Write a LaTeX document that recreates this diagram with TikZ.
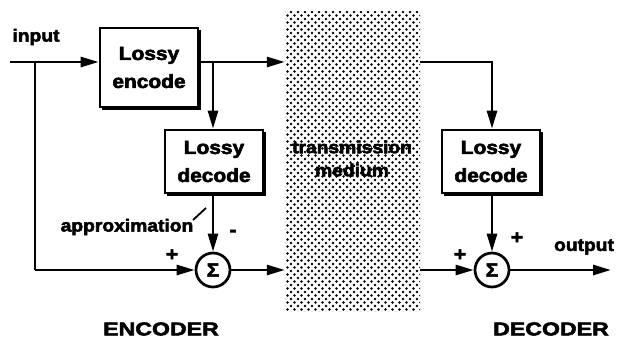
\documentclass[tikz,border=0pt]{standalone}
\usepackage{fontspec}
\usetikzlibrary{arrows.meta}
\newfontfamily\lbl{Liberation Sans}[FakeStretch=1.1,FakeBold=3]
\newfontfamily\ttl{Liberation Sans}[FakeStretch=1.25,FakeBold=3]
\tikzset{
  lw/.style={line width=2.7pt},
  arr/.style={lw,-{Triangle[length=18pt,width=10pt]}},
  blockbox/.style={draw,lw,fill=white,rectangle,minimum width=98pt,
    align=center,font=\lbl\bfseries\fontsize{19}{28}\selectfont,inner sep=0pt},
  sumnode/.style={draw,lw,circle,fill=white,minimum size=34pt,inner sep=0pt,
    font=\lbl\bfseries\fontsize{19}{19}\selectfont},
  lab/.style={font=\lbl\bfseries\fontsize{17.5}{20}\selectfont,inner sep=0pt},
  title/.style={font=\ttl\bfseries\fontsize{18.5}{20}\selectfont,inner sep=0pt},
  sign/.style={font=\lbl\bfseries\fontsize{19}{19}\selectfont,inner sep=0pt}
}
\begin{document}
\begin{tikzpicture}[x=1pt,y=-1pt]
\useasboundingbox (0,0) rectangle (617,342);

% stippled transmission medium
\node[rectangle,minimum width=135pt,minimum height=299pt,inner sep=0pt] (med) at (352.5,161.5) {};
\begin{scope}
  \clip (285,12) rectangle (420,311);
  \foreach \r in {0,...,86}{
    \pgfmathsetmacro\yy{12+3.5*\r}
    \pgfmathsetmacro\xo{284+mod(\r,2)*3.5}
    \foreach \c in {0,...,20}{
      \fill (\xo+7*\c,\yy) circle (1.3pt);
    }
  }
\end{scope}
\node[lab] (tm1) at (352,147) {transmission};
\node[lab] (tm2) at (352,170) {medium};

% blocks (drop shadow under each)
\foreach \cx/\cy/\h in {149/67.5/79,214/161.5/63,491/161.5/63}{
  \fill (\cx-47,\cy-\h/2+2) rectangle (\cx+51.5,\cy+\h/2+2.5);
}
\node[blockbox,minimum height=79pt] (enc) at (149,67.5) {Lossy\\encode};
\node[blockbox,minimum height=63pt] (dec1) at (214,161.5) {Lossy\\decode};
\node[blockbox,minimum height=63pt] (dec2) at (491,161.5) {Lossy\\decode};

% summing junctions
\node[sumnode] (sum1) at (213,270) {Σ};
\node[sumnode] (sum2) at (492,270) {Σ};

% connection points
\coordinate (in) at (10,62);
\coordinate (tap) at (35,62);
\coordinate (br) at (213,62);
\coordinate (out) at (611,270);

% encoder side
\draw[arr] (in) -- (in -| enc.west);
\draw[arr] (in -| enc.east) -- (in -| med.west);
\draw[arr] (br) -- (br |- dec1.north);
\draw[lw] (tap) -- (tap |- sum1.west);
\draw[arr] (tap |- sum1.west) -- (sum1.west);
\draw[arr] (sum1 |- dec1.south) -- (sum1.north);
\draw[arr] (sum1.east) -- (sum1.east -| med.west);

% decoder side
\draw[arr] (in -| med.east) -| (sum2 |- dec2.north);
\draw[arr] (sum2 |- dec2.south) -- (sum2.north);
\draw[arr] (sum2.west -| med.east) -- (sum2.west);
\draw[arr] (sum2.east) -- (out);

% labels
\node[lab] (linput) at (36,37) {input};
\node[lab] (lout) at (584,247) {output};
\node[lab] (lapprox) at (127,227) {approximation};
\coordinate (ap1) at (193,220);
\coordinate (ap2) at (206,208);
\draw[line width=1.8pt] (ap1) -- (ap2);
\node[sign] (p1) at (172,255) {+};
\node[sign] (m1) at (233,233) {-};
\node[sign] (p2) at (460,255) {+};
\node[sign] (p3) at (517,238) {+};
\node[title] (tenc) at (161,329) {ENCODER};
\node[title] (tdec) at (551,329) {DECODER};
\end{tikzpicture}
\end{document}
